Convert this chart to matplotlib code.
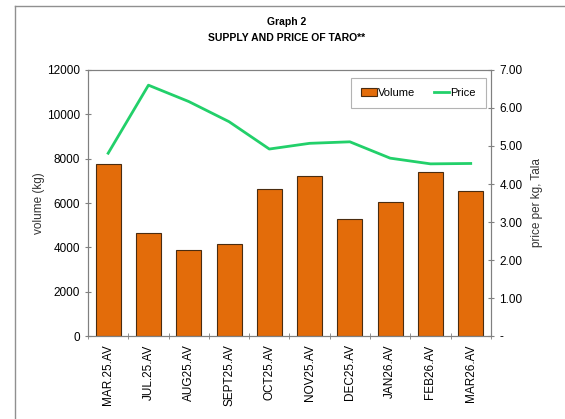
import matplotlib.pyplot as plt
from matplotlib.lines import Line2D

plt.rcParams['font.family'] = ['Liberation Sans', 'DejaVu Sans']

months = ['MAR.25.AV', 'JUL.25.AV', 'AUG25.AV', 'SEPT25.AV', 'OCT25.AV',
          'NOV25.AV', 'DEC25.AV', 'JAN26.AV', 'FEB26.AV', 'MAR26.AV']
volume = [7750, 4630, 3870, 4140, 6620, 7230, 5280, 6060, 7400, 6540]
price = [4.81, 6.60, 6.17, 5.64, 4.92, 5.07, 5.11, 4.68, 4.53, 4.54]

vol_ticks = [0, 2000, 4000, 6000, 8000, 10000, 12000]
price_ticks = [0, 1, 2, 3, 4, 5, 6, 7]
price_labels = ['-', '1.00', '2.00', '3.00', '4.00', '5.00', '6.00', '7.00']

fig = plt.figure(figsize=(5.65, 4.19), dpi=100)
ax = fig.add_axes([0.1558, 0.198, 0.713, 0.635])
ax2 = ax.twinx()

x = list(range(len(months)))
ax.bar(x, volume, width=0.62, color='#E36C0A', edgecolor='#4a2c10', linewidth=0.8,
       label='Volume', zorder=2)
ax2.plot(x, price, color='#22D06A', linewidth=2, label='Price')

ax.set_xlim(-0.5, len(months) - 0.5)
ax.set_ylim(0, 12000)
ax2.set_ylim(0, 7)
ax.set_yticks(vol_ticks)
ax2.set_yticks(price_ticks)
ax2.set_yticklabels(price_labels)

ax.set_xticks(x)
ax.set_xticklabels(months, rotation=90, fontsize=8.5)
ax.tick_params(axis='x', length=0, pad=6)
ax.set_xticks([i - 0.5 for i in range(len(months) + 1)], minor=True)
ax.tick_params(axis='x', which='minor', length=4, direction='inout', color='#808080')
ax.tick_params(axis='y', labelsize=8.5, direction='inout', length=5, color='#808080')
ax2.tick_params(axis='y', labelsize=8.5, direction='inout', length=5, color='#808080')

for a in (ax, ax2):
    for s in a.spines.values():
        s.set_color('#808080')
        s.set_linewidth(0.8)

ax.set_ylabel('volume (kg)', fontsize=8.5, labelpad=1, color='#333333')
ax2.set_ylabel('price per kg, Tala', fontsize=8.5, labelpad=6, color='#333333')

fig.text(0.508, 0.947, 'Graph 2', ha='center', va='center', fontsize=7.5, fontweight='bold')
fig.text(0.508, 0.909, 'SUPPLY AND PRICE OF TARO**', ha='center', va='center',
         fontsize=7.5, fontweight='bold')

handles = [plt.Rectangle((0, 0), 1, 1, facecolor='#E36C0A', edgecolor='#4a2c10', linewidth=0.8),
           Line2D([0], [0], color='#22D06A', linewidth=2)]
leg = ax2.legend(handles, ['Volume', 'Price'], ncol=2, loc='upper right',
                 bbox_to_anchor=(0.988, 0.97), borderaxespad=0, fontsize=8,
                 frameon=True, fancybox=False,
                 handlelength=1.4, handletextpad=0.1, columnspacing=1.7,
                 borderpad=0.9)
leg.get_frame().set_edgecolor('#a0a0a0')
leg.get_frame().set_linewidth(0.8)

# outer frame
fig.add_artist(Line2D([15 / 565, 1.0], [1 - 6 / 419, 1 - 6 / 419], color='#909090', linewidth=1))
fig.add_artist(Line2D([15 / 565, 15 / 565], [0, 1 - 6 / 419], color='#909090', linewidth=1))

fig.savefig('out.png', dpi=100)
